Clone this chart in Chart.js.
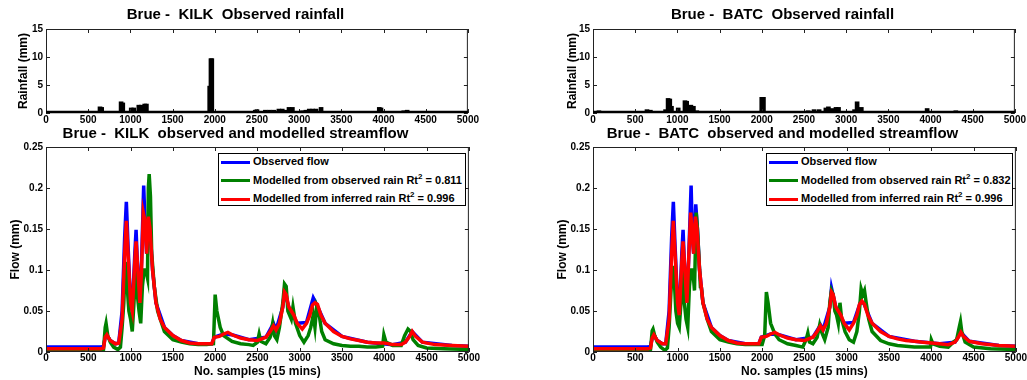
<!DOCTYPE html>
<html lang="en">
<head>
<meta charset="UTF-8">
<title>Brue observed rainfall and streamflow</title>
<script src="https://cdn.jsdelivr.net/npm/chart.js"></script>
<style>
  body { margin: 0; background: #fff; font-family: "Liberation Sans", Arial, sans-serif; }
  #page { position: relative; width: 1027px; height: 380px; overflow: hidden; }
  canvas { position: absolute; }
  .legend { position: absolute; box-sizing: border-box; height: 53px; border: 1px solid #000; background: #fff;
            font: bold 11px "Liberation Sans", Arial, sans-serif; color: #000; }
  .legend .rows { margin-top: -2px; }
  .legend .row { height: 18.5px; line-height: 18.5px; white-space: nowrap; }
  .legend .sw { display: inline-block; width: 29px; height: 3px; vertical-align: middle; margin: 0 3px 0 2px; }
  .legend sup { font-size: 8px; line-height: 0; }
</style>
</head>
<body>
<div id="page">
  <canvas id="rainL" width="480" height="130" style="left:0px;top:0px"></canvas>
  <canvas id="flowL" width="480" height="262" style="left:0px;top:118px"></canvas>
  <canvas id="rainR" width="480" height="130" style="left:547px;top:0px"></canvas>
  <canvas id="flowR" width="480" height="262" style="left:547px;top:118px"></canvas>

  <div class="legend" style="left:218px;top:153px;width:248px">
    <div class="rows">
      <div class="row"><span class="sw" style="background:#0000ff"></span>Observed flow</div>
      <div class="row"><span class="sw" style="background:#008000"></span>Modelled from observed rain Rt<sup>2</sup> = 0.811</div>
      <div class="row"><span class="sw" style="background:#ff0000"></span>Modelled from inferred rain Rt<sup>2</sup> = 0.996</div>
    </div>
  </div>
  <div class="legend" style="left:766px;top:153px;width:247px">
    <div class="rows">
      <div class="row"><span class="sw" style="background:#0000ff"></span>Observed flow</div>
      <div class="row"><span class="sw" style="background:#008000"></span>Modelled from observed rain Rt<sup>2</sup> = 0.832</div>
      <div class="row"><span class="sw" style="background:#ff0000"></span>Modelled from inferred rain Rt<sup>2</sup> = 0.996</div>
    </div>
  </div>
</div>

<script>
// tick values
const xTicks = [0, 500, 1000, 1500, 2000, 2500, 3000, 3500, 4000, 4500, 5000];
const rainTicks = [0, 5, 10, 15];
const flowTicks = [0, 0.05, 0.1, 0.15, 0.2, 0.25];

// rainfall (mm) per sample
const kilkRainX = [200, 300, 500, 640, 660, 780, 860, 890, 910, 1010, 1040, 1100, 1130, 1170, 1190, 1250,
                   1940, 1955, 1965, 2020, 2350, 2400, 2480, 2500, 2600, 2650, 2700, 2760, 2800, 2840, 2880, 2920,
                   3040, 3080, 3120, 3160, 3200, 3260, 3950, 3970, 4200, 4240, 4280];
const kilkRainY = [0.1, 0.15, 0.2, 1.1, 1.0, 0.2, 0.3, 2.0, 1.8, 0.9, 0.9, 1.4, 1.4, 1.6, 1.6, 0.2,
                   4.8, 9.7, 9.7, 0.2, 0.3, 0.2, 0.5, 0.6, 0.5, 0.5, 0.5, 0.7, 0.7, 0.5, 1.0, 1.0,
                   0.4, 0.5, 0.7, 0.7, 0.7, 1.0, 1.0, 0.9, 0.3, 0.4, 0.5];

const batcRainX = [70, 200, 300, 480, 640, 680, 860, 890, 910, 930, 1010, 1090, 1110, 1160, 1190, 1230, 1300,
                   2000, 2020, 2050, 2450, 2550, 2620, 2680, 2760, 2790, 2830, 2880, 2910,
                   3050, 3100, 3130, 3180, 3250, 3960, 4200, 4240, 4300];
const batcRainY = [0.4, 0.2, 0.2, 0.2, 0.6, 0.5, 0.6, 2.6, 2.5, 1.2, 0.9, 2.2, 2.1, 1.4, 1.2, 0.4, 0.2,
                   2.8, 2.8, 0.3, 0.2, 0.4, 0.6, 0.6, 0.9, 1.1, 0.8, 1.0, 1.0,
                   0.3, 0.6, 2.0, 1.0, 0.3, 0.8, 0.3, 0.3, 0.4];

// KILK flow (mm)
const kilkObsX = [0, 650, 680, 700, 720, 760, 820, 860, 900, 930,
                  950, 970, 1000, 1020, 1050, 1065, 1080, 1110, 1130, 1155,
                  1170, 1190, 1210, 1230, 1260, 1300, 1400, 1500, 1600, 1800,
                  1960, 1990, 2100, 2200, 2400, 2600, 2690, 2720, 2800, 2820,
                  2870, 2970, 3080, 3160, 3200, 3300, 3500, 3800, 4100, 4250,
                  4330, 4450, 4800, 5000];
const kilkObsY = [0.006, 0.006, 0.007, 0.018, 0.021, 0.014, 0.010, 0.011, 0.050, 0.140,
                  0.183, 0.130, 0.060, 0.050, 0.120, 0.149, 0.110, 0.060, 0.110, 0.203,
                  0.160, 0.120, 0.160, 0.150, 0.100, 0.060, 0.030, 0.020, 0.014, 0.010,
                  0.010, 0.018, 0.022, 0.021, 0.015, 0.018, 0.035, 0.027, 0.055, 0.075,
                  0.055, 0.035, 0.036, 0.066, 0.058, 0.035, 0.019, 0.012, 0.009, 0.012,
                  0.025, 0.012, 0.008, 0.007];

const kilkInfX = [0, 650, 680, 700, 720, 760, 820, 860, 900, 930,
                  950, 970, 1000, 1020, 1050, 1065, 1080, 1110, 1130, 1150,
                  1170, 1190, 1210, 1230, 1260, 1300, 1350, 1400, 1500, 1600,
                  1700, 1800, 1900, 1960, 1990, 2050, 2100, 2150, 2200, 2300,
                  2400, 2500, 2550, 2600, 2650, 2690, 2720, 2760, 2800, 2820,
                  2840, 2870, 2900, 2930, 2970, 3030, 3080, 3120, 3150, 3180,
                  3210, 3250, 3300, 3400, 3500, 3600, 3700, 3800, 3900, 4000,
                  4100, 4200, 4250, 4300, 4330, 4370, 4450, 4600, 4800, 5000];
const kilkInfY = [0.004, 0.004, 0.005, 0.018, 0.021, 0.014, 0.010, 0.011, 0.040, 0.120,
                  0.160, 0.120, 0.060, 0.050, 0.110, 0.135, 0.110, 0.060, 0.100, 0.170,
                  0.160, 0.120, 0.165, 0.150, 0.100, 0.060, 0.040, 0.030, 0.020, 0.014,
                  0.011, 0.010, 0.010, 0.010, 0.018, 0.019, 0.022, 0.024, 0.021, 0.017,
                  0.015, 0.014, 0.016, 0.018, 0.025, 0.032, 0.027, 0.035, 0.055, 0.073,
                  0.070, 0.055, 0.050, 0.045, 0.035, 0.028, 0.035, 0.045, 0.057, 0.060,
                  0.058, 0.045, 0.035, 0.025, 0.019, 0.016, 0.014, 0.012, 0.011, 0.011,
                  0.009, 0.009, 0.012, 0.019, 0.025, 0.019, 0.012, 0.009, 0.008, 0.007];

const kilkModX = [0, 650, 680, 700, 710, 730, 760, 800, 850, 880,
                  900, 920, 940, 960, 980, 1000, 1020, 1040, 1060, 1080,
                  1100, 1120, 1140, 1160, 1180, 1200, 1210, 1220, 1235, 1250,
                  1280, 1320, 1400, 1500, 1600, 1700, 1800, 1900, 1980, 2000,
                  2020, 2060, 2100, 2200, 2300, 2400, 2450, 2500, 2520, 2540,
                  2600, 2650, 2680, 2700, 2730, 2760, 2800, 2820, 2840, 2860,
                  2880, 2900, 2920, 2950, 3000, 3050, 3100, 3130, 3160, 3180,
                  3200, 3230, 3260, 3300, 3400, 3500, 3600, 3700, 3800, 3900,
                  3980, 3995, 4020, 4100, 4200, 4240, 4280, 4310, 4340, 4400,
                  4500, 4700, 5000];
const kilkModY = [0.002, 0.002, 0.003, 0.030, 0.035, 0.020, 0.012, 0.006, 0.003, 0.006,
                  0.030, 0.060, 0.110, 0.080, 0.050, 0.040, 0.025, 0.060, 0.100, 0.070,
                  0.050, 0.035, 0.080, 0.100, 0.100, 0.090, 0.200, 0.217, 0.190, 0.120,
                  0.080, 0.050, 0.025, 0.015, 0.012, 0.010, 0.009, 0.009, 0.010, 0.070,
                  0.050, 0.030, 0.020, 0.013, 0.010, 0.009, 0.008, 0.012, 0.022, 0.013,
                  0.010, 0.018, 0.035, 0.020, 0.015, 0.030, 0.060, 0.083, 0.080, 0.050,
                  0.045, 0.040, 0.055, 0.035, 0.020, 0.012, 0.020, 0.030, 0.045, 0.030,
                  0.055, 0.045, 0.025, 0.015, 0.010, 0.008, 0.007, 0.007, 0.006, 0.006,
                  0.007, 0.021, 0.012, 0.008, 0.008, 0.020, 0.028, 0.025, 0.015, 0.008,
                  0.005, 0.004, 0.003];

// BATC flow (mm)
const batcObsX = [0, 650, 680, 700, 720, 760, 820, 860, 900, 930,
                  950, 970, 1000, 1020, 1050, 1065, 1080, 1110, 1130, 1160,
                  1175, 1190, 1215, 1235, 1260, 1300, 1400, 1500, 1600, 1800,
                  1960, 1990, 2100, 2200, 2400, 2600, 2690, 2720, 2800, 2820,
                  2870, 2970, 3080, 3160, 3200, 3300, 3500, 3800, 4100, 4280,
                  4350, 4450, 4800, 5000];
const batcObsY = [0.006, 0.006, 0.007, 0.017, 0.021, 0.014, 0.010, 0.010, 0.050, 0.140,
                  0.183, 0.130, 0.060, 0.045, 0.120, 0.149, 0.110, 0.060, 0.110, 0.203,
                  0.140, 0.120, 0.180, 0.150, 0.100, 0.060, 0.030, 0.020, 0.014, 0.010,
                  0.010, 0.018, 0.022, 0.021, 0.015, 0.018, 0.033, 0.027, 0.055, 0.078,
                  0.055, 0.035, 0.036, 0.060, 0.060, 0.035, 0.019, 0.013, 0.010, 0.012,
                  0.024, 0.013, 0.008, 0.007];

const batcInfX = [0, 650, 680, 700, 720, 760, 820, 860, 900, 930,
                  950, 970, 1000, 1020, 1050, 1065, 1080, 1110, 1130, 1155,
                  1175, 1190, 1210, 1230, 1260, 1300, 1350, 1400, 1500, 1600,
                  1700, 1800, 1900, 1960, 1990, 2050, 2100, 2150, 2200, 2300,
                  2400, 2500, 2550, 2600, 2650, 2690, 2720, 2760, 2800, 2820,
                  2840, 2870, 2900, 2930, 2970, 3030, 3080, 3120, 3150, 3180,
                  3210, 3250, 3300, 3400, 3500, 3600, 3700, 3800, 3900, 4000,
                  4100, 4200, 4280, 4320, 4350, 4380, 4450, 4600, 4800, 5000];
const batcInfY = [0.004, 0.004, 0.005, 0.017, 0.021, 0.014, 0.010, 0.010, 0.040, 0.120,
                  0.160, 0.120, 0.060, 0.045, 0.110, 0.135, 0.110, 0.060, 0.110, 0.170,
                  0.140, 0.120, 0.165, 0.150, 0.100, 0.060, 0.040, 0.030, 0.020, 0.014,
                  0.011, 0.010, 0.010, 0.010, 0.018, 0.019, 0.022, 0.024, 0.021, 0.017,
                  0.015, 0.014, 0.016, 0.018, 0.025, 0.032, 0.027, 0.035, 0.055, 0.073,
                  0.070, 0.055, 0.050, 0.045, 0.035, 0.027, 0.035, 0.045, 0.058, 0.062,
                  0.058, 0.045, 0.035, 0.025, 0.019, 0.016, 0.014, 0.013, 0.012, 0.011,
                  0.010, 0.009, 0.012, 0.018, 0.024, 0.019, 0.013, 0.010, 0.008, 0.007];

const batcModX = [0, 650, 680, 700, 710, 730, 760, 800, 850, 880,
                  900, 920, 940, 960, 980, 1000, 1020, 1040, 1060, 1080,
                  1100, 1120, 1140, 1160, 1180, 1200, 1220, 1235, 1250, 1270,
                  1280, 1300, 1350, 1400, 1500, 1600, 1700, 1800, 1900, 2000,
                  2030, 2050, 2070, 2100, 2150, 2200, 2300, 2400, 2480, 2520,
                  2540, 2560, 2600, 2650, 2680, 2700, 2740, 2780, 2800, 2820,
                  2840, 2860, 2880, 2900, 2920, 2940, 2980, 3030, 3080, 3120,
                  3150, 3170, 3190, 3210, 3230, 3260, 3300, 3400, 3500, 3600,
                  3700, 3800, 3900, 3990, 4000, 4020, 4100, 4200, 4260, 4300,
                  4330, 4345, 4360, 4400, 4500, 4700, 5000];
const batcModY = [0.002, 0.002, 0.003, 0.026, 0.028, 0.020, 0.012, 0.006, 0.002, 0.005,
                  0.030, 0.070, 0.105, 0.090, 0.050, 0.035, 0.030, 0.060, 0.100, 0.060,
                  0.040, 0.030, 0.080, 0.100, 0.100, 0.075, 0.170, 0.150, 0.120, 0.080,
                  0.080, 0.060, 0.040, 0.025, 0.015, 0.012, 0.010, 0.009, 0.009, 0.009,
                  0.020, 0.073, 0.060, 0.035, 0.022, 0.015, 0.010, 0.008, 0.006, 0.015,
                  0.023, 0.012, 0.010, 0.018, 0.033, 0.025, 0.015, 0.030, 0.060, 0.075,
                  0.070, 0.050, 0.045, 0.035, 0.060, 0.040, 0.025, 0.015, 0.012, 0.025,
                  0.050, 0.077, 0.070, 0.075, 0.060, 0.040, 0.025, 0.014, 0.010, 0.008,
                  0.007, 0.006, 0.006, 0.006, 0.015, 0.010, 0.007, 0.006, 0.012, 0.015,
                  0.030, 0.037, 0.025, 0.012, 0.006, 0.004, 0.003];

const tickFont = { family: '"Liberation Sans Narrow", "Liberation Sans", Arial', size: 10, weight: 'bold' };
const labelFont = { family: '"Liberation Sans", Arial', size: 12, weight: 'bold' };
const titleFont = { family: '"Liberation Sans", Arial', size: 15, weight: 'bold' };

function pts(xs, ys) {
    return xs.map((x, i) => ({ x: x, y: ys[i] }));
}

// matlab style box with inward ticks
const boxPlugin = {
    id: 'box',
    afterDatasetsDraw(chart, args, opts) {
        const { ctx, chartArea: a, scales } = chart;
        const line = (x1, y1, x2, y2) => { ctx.beginPath(); ctx.moveTo(x1, y1); ctx.lineTo(x2, y2); ctx.stroke(); };
        ctx.save();
        ctx.strokeStyle = '#222';
        ctx.lineWidth = 1;
        ctx.strokeRect(a.left + 0.5, a.top + 0.5, a.right - a.left - 1, a.bottom - a.top - 1);
        scales.x.ticks.forEach(t => {
            const px = Math.round(scales.x.getPixelForValue(t.value)) + 0.5;
            line(px, a.bottom, px, a.bottom - 4);
            line(px, a.top, px, a.top + 4);
        });
        scales.y.ticks.forEach(t => {
            const py = Math.round(scales.y.getPixelForValue(t.value)) + 0.5;
            line(a.left, py, a.left + 4, py);
            line(a.right, py, a.right - 4, py);
        });
        if (opts.base) {
            ctx.strokeStyle = '#000';
            ctx.lineWidth = opts.base;
            line(a.left, a.bottom - 1, a.right, a.bottom - 1);
        }
        ctx.restore();
    }
};

function xAxis(height, pad, title) {
    return {
        type: 'linear', min: 0, max: 5000, offset: false,
        grid: { display: false, drawTicks: false, tickLength: 0 },
        border: { display: false },
        ticks: { font: tickFont, color: '#000', padding: pad, maxRotation: 0, autoSkip: false,
                 callback: v => String(v) },
        title: title ? { display: true, text: title, font: labelFont, color: '#000', padding: { top: 0, bottom: 1 } }
                     : { display: false },
        afterBuildTicks: s => { s.ticks = xTicks.map(v => ({ value: v })); },
        afterFit: s => { s.height = height; }
    };
}

function yAxis(max, tickVals, title, titlePad) {
    return {
        min: 0, max: max,
        grid: { display: false, drawTicks: false, tickLength: 0 },
        border: { display: false },
        ticks: { font: tickFont, color: '#000', padding: 3, callback: v => String(v) },
        title: { display: true, text: title, font: labelFont, color: '#000', padding: { top: titlePad, bottom: 0 } },
        afterBuildTicks: s => { s.ticks = tickVals.map(v => ({ value: v })); },
        afterFit: s => { s.width = 46; }
    };
}

function rainChart(id, title, xs, ys, titlePad) {
    new Chart(document.getElementById(id), {
        type: 'bar',
        data: { datasets: [{ data: pts(xs, ys), backgroundColor: '#000', borderWidth: 0, barThickness: 4 }] },
        options: {
            responsive: false, animation: false, devicePixelRatio: 1,
            layout: { padding: { left: 0, right: 9, top: 0, bottom: 0 } },
            scales: { x: xAxis(17, 1), y: yAxis(15, rainTicks, 'Rainfall (mm)', titlePad) },
            plugins: {
                legend: { display: false }, tooltip: { enabled: false },
                title: { display: true, text: title, font: titleFont, color: '#000', padding: { top: 6, bottom: 5 } },
                box: { base: 2.5 }
            }
        },
        plugins: [boxPlugin]
    });
}

function flowChart(id, title, obs, mod, inf, titlePad) {
    const ds = (data, color, order) => ({ data: data, borderColor: color, backgroundColor: color, borderWidth: 3.5,
                                          pointRadius: 0, tension: 0, order: order });
    new Chart(document.getElementById(id), {
        type: 'line',
        data: { datasets: [ds(obs, '#0000ff', 3), ds(mod, '#008000', 2), ds(inf, '#ff0000', 1)] },
        options: {
            responsive: false, animation: false, devicePixelRatio: 1,
            layout: { padding: { left: 0, right: 9, top: 0, bottom: 0 } },
            scales: { x: xAxis(28, 0, 'No. samples (15 mins)'), y: yAxis(0.25, flowTicks, 'Flow (mm)', titlePad) },
            plugins: {
                legend: { display: false }, tooltip: { enabled: false },
                title: { display: true, text: title, font: titleFont, color: '#000', padding: { top: 7, bottom: 4 } },
                box: {}
            }
        },
        plugins: [boxPlugin]
    });
}

rainChart('rainL', 'Brue -  KILK  Observed rainfall', kilkRainX, kilkRainY, 16);
rainChart('rainR', 'Brue -  BATC  Observed rainfall', batcRainX, batcRainY, 18);
flowChart('flowL', 'Brue -  KILK  observed and modelled streamflow',
          pts(kilkObsX, kilkObsY), pts(kilkModX, kilkModY), pts(kilkInfX, kilkInfY), 8);
flowChart('flowR', 'Brue -  BATC  observed and modelled streamflow',
          pts(batcObsX, batcObsY), pts(batcModX, batcModY), pts(batcInfX, batcInfY), 8);
</script>
</body>
</html>
